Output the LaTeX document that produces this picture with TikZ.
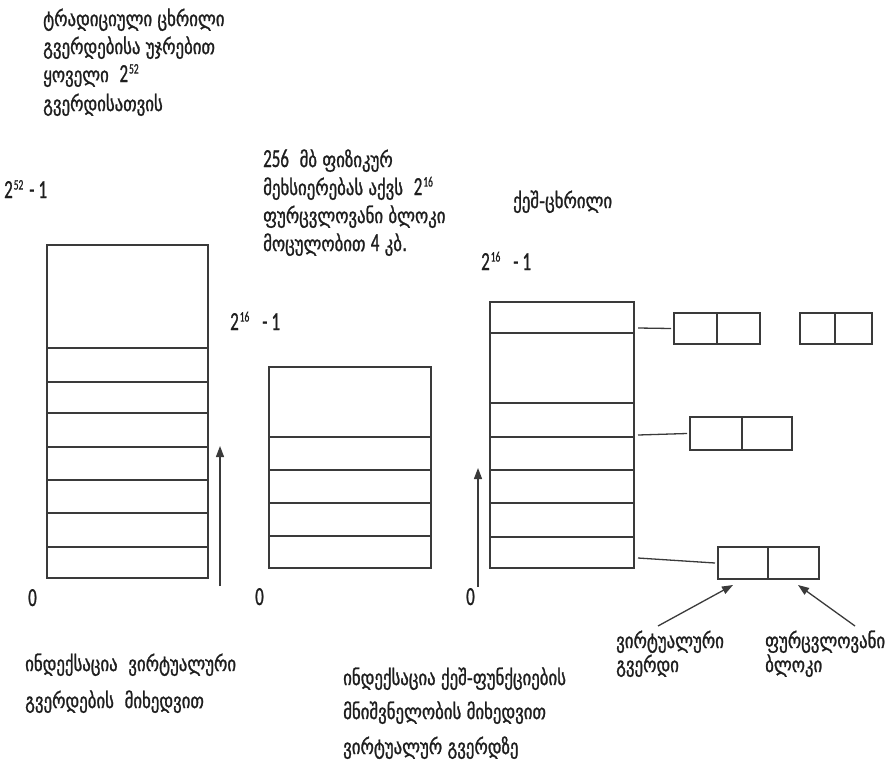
\documentclass[tikz,border=0pt]{standalone}
\usepackage{fontspec}
\setmainfont{Carlito}
\newfontfamily\geofont[FakeStretch=0.8,FakeBold=1.2]{DejaVu Sans}
\newfontfamily\numfont[FakeStretch=0.65,FakeBold=0.8]{Carlito}
\usetikzlibrary{arrows.meta}
\definecolor{ink}{HTML}{3A3A3A}
\definecolor{txt}{HTML}{1E1E1E}
% number in the numeral font inside Georgian text
\newcommand{\nm}[1]{{\numfont\fontsize{26}{30}\selectfont #1}}
% power with a small raised exponent
\newcommand{\pw}[2]{#1\hspace{1pt}\raisebox{0.68ex}{\fontsize{14.5}{14.5}\selectfont #2}}

\begin{document}
\begin{tikzpicture}[x=1pt,y=-1pt,
  frame/.style={draw=ink, line width=1.4pt, inner sep=0pt, outer sep=0pt, anchor=north west},
  rowline/.style={draw=ink, line width=1.4pt},
  link/.style={draw=ink, line width=1.3pt},
  pointer/.style={draw=ink, line width=1.3pt, -{Triangle[length=11pt,width=8pt]}},
  geo/.style={anchor=base west, inner sep=0pt, text=txt, font=\geofont\fontsize{21}{25}\selectfont},
  num/.style={anchor=base west, inner sep=0pt, text=txt, font=\numfont\fontsize{26}{30}\selectfont},
]
\useasboundingbox (0,0) rectangle (885,779);

% ---- traditional page table ----
\node[frame, minimum width=161pt, minimum height=333pt] (vt) at (47,245) {};
\foreach \r in {348,382,413,447,480,513,547}
  \draw[rowline] (vt.west |- 0,\r) -- (vt.east |- 0,\r);

% ---- physical memory ----
\node[frame, minimum width=162pt, minimum height=201pt] (pm) at (269,367) {};
\foreach \r in {437,470,503,536}
  \draw[rowline] (pm.west |- 0,\r) -- (pm.east |- 0,\r);

% ---- hash table ----
\node[frame, minimum width=144pt, minimum height=266pt] (hc) at (490,302) {};
\foreach \r in {333,403,437,470,503,537}
  \draw[rowline] (hc.west |- 0,\r) -- (hc.east |- 0,\r);

% ---- chain entries (virtual page | physical block) ----
\node[frame, minimum width=43pt, minimum height=31pt] (e1k) at (674,313) {};
\node[frame, minimum width=43pt, minimum height=31pt] (e1v) at (e1k.north east) {};
\node[frame, minimum width=35pt, minimum height=31pt] (e2k) at (800,313) {};
\node[frame, minimum width=37pt, minimum height=31pt] (e2v) at (e2k.north east) {};
\node[frame, minimum width=52pt, minimum height=33pt] (e3k) at (690,417) {};
\node[frame, minimum width=50pt, minimum height=33pt] (e3v) at (e3k.north east) {};
\node[frame, minimum width=50pt, minimum height=32pt] (e4k) at (718,547) {};
\node[frame, minimum width=51pt, minimum height=32pt] (e4v) at (e4k.north east) {};

% links from hash slots to entries
\coordinate (s1) at (638,328);
\coordinate (s2) at (638,435);
\coordinate (s3) at (638,558);
\draw[link] (s1) -- ([xshift=-3pt]e1k.west);
\draw[link] (s2) -- ([xshift=-3pt]e3k.west);
\draw[link] (s3) -- ([xshift=-3pt]e4k.west);

% index direction arrows
\coordinate (a1) at (220,586);
\coordinate (a1t) at (220,446);
\coordinate (a2) at (478,587);
\coordinate (a2t) at (478,468);
\draw[pointer] (a1) -- (a1t);
\draw[pointer] (a2) -- (a2t);

% arrows from the captions to the entry fields
\coordinate (vpt) at (658,626);
\coordinate (vtip) at (733,585);
\coordinate (bpt) at (855,626);
\coordinate (btip) at (798,585);
\draw[pointer] (vpt) -- (vtip);
\draw[pointer] (bpt) -- (btip);

% ---- texts ----
\node[geo] (tl1) at (43,26) {ტრადიციული ცხრილი};
\node[geo] (tl2) at (43,54) {გვერდებისა უჯრებით};
\node[geo] (tl3) at (43,82) {ყოველი\ \ \nm{\pw{2}{52}}};
\node[geo] (tl4) at (43,111) {გვერდისათვის};
\node[num] (n1) at (4,198) {\pw{2}{52}\hspace{6pt}-\hspace{4pt}1};

\node[geo] (pm1) at (263,167) {\nm{256}\ \ მბ ფიზიკურ};
\node[geo] (pm2) at (263,195) {მეხსიერებას აქვს\ \ \nm{\pw{2}{16}}};
\node[geo] (pm3) at (263,223) {ფურცვლოვანი ბლოკი};
\node[geo] (pm4) at (263,251) {მოცულობით \nm{4} კბ.};
\node[num] (n2) at (230,330) {\pw{2}{16}\hspace{13pt}-\hspace{4pt}1};

\node[geo] (hc0) at (513,208) {ქეშ-ცხრილი};
\node[num] (n3) at (481,270) {\pw{2}{16}\hspace{13pt}-\hspace{4pt}1};

\node[num] (z1) at (28,606) {0};
\node[num] (z2) at (255,605) {0};
\node[num] (z3) at (466,605) {0};

\node[geo] (bl1) at (25,671) {ინდექსაცია\ \ ვირტუალური};
\node[geo] (bl2) at (25,708) {გვერდების\ \ მიხედვით};

\node[geo] (bm1) at (343,685) {ინდექსაცია ქეშ-ფუნქციების};
\node[geo] (bm2) at (343,719) {მნიშვნელობის მიხედვით};
\node[geo] (bm3) at (343,754) {ვირტუალურ გვერდზე};

\node[geo] (br1) at (616,648) {ვირტუალური};
\node[geo] (br2) at (616,672) {გვერდი};
\node[geo] (br3) at (765,648) {ფურცვლოვანი};
\node[geo] (br4) at (765,672) {ბლოკი};
\end{tikzpicture}
\end{document}
